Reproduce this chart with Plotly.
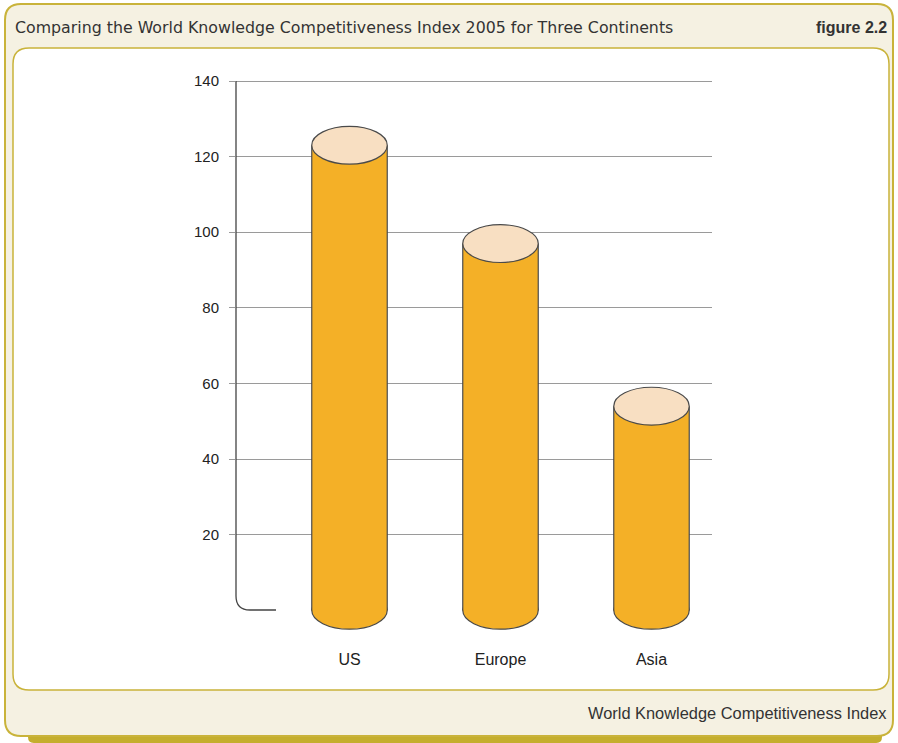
import plotly.graph_objects as go

# ---- data ----
categories = ["US", "Europe", "Asia"]
values = [123, 97, 54]
ytick_vals = [20, 40, 60, 80, 100, 120, 140]
title_text = "Comparing the World Knowledge Competitiveness Index 2005 for Three Continents"
fig_label = "figure 2.2"
source_text = "World Knowledge Competitiveness Index"

# ---- layout constants ----
W, H = 898, 743
ML, MR, MT, MB = 236, 186, 79, 110
PW, PH = W - ML - MR, H - MT - MB
Y_TOP = 140 + 2 / 3.781

BODY = "#F4B027"
TOP = "#F8DFC2"
EDGE = "#4a4a4a"
CREAM = "#F5F1E2"
GOLD = "#C9B33A"
SHADOW = "#C4AE2E"
HALF_W = 0.25
RY = 5.0

def px(x):
    return (x - ML) / PW

def py(y):
    return (H - MB - y) / PH

def rrect(x0, y0, x1, y1, r):
    pts = [
        ("M", (x0 + r, y0)),
        ("L", (x1 - r, y0)),
        ("Q", (x1, y0), (x1, y0 + r)),
        ("L", (x1, y1 - r)),
        ("Q", (x1, y1), (x1 - r, y1)),
        ("L", (x0 + r, y1)),
        ("Q", (x0, y1), (x0, y1 - r)),
        ("L", (x0, y0 + r)),
        ("Q", (x0, y0), (x0 + r, y0)),
    ]
    s = ""
    for p in pts:
        cmd = p[0]
        coords = " ".join(f"{px(a):.5f},{py(b):.5f}" for a, b in p[1:])
        s += f"{cmd} {coords} "
    return s + "Z"

x_pos = list(range(len(categories)))

fig = go.Figure()
fig.add_trace(go.Bar(
    x=x_pos, y=values, width=2 * HALF_W,
    marker=dict(color=BODY, line=dict(width=0)),
    hoverinfo="skip", showlegend=False,
))

shapes = []
# frame shadow
shapes.append(dict(type="path", xref="paper", yref="paper", layer="below",
                   path=rrect(28, 728, 882, 743, 6), fillcolor=SHADOW, line=dict(width=0)))
# outer frame
shapes.append(dict(type="path", xref="paper", yref="paper", layer="below",
                   path=rrect(5, 4, 893, 736, 16), fillcolor=CREAM, line=dict(color=GOLD, width=2)))
# inner white box
shapes.append(dict(type="path", xref="paper", yref="paper", layer="below",
                   path=rrect(13, 48, 889, 690, 16), fillcolor="white", line=dict(color=GOLD, width=1.5)))
# axis line with rounded corner
ax_path = (f"M {px(236):.5f},{py(81):.5f} L {px(236):.5f},{py(596):.5f} "
           f"Q {px(236):.5f},{py(610):.5f} {px(250):.5f},{py(610):.5f} L {px(276):.5f},{py(610):.5f}")
shapes.append(dict(type="path", xref="paper", yref="paper", layer="above",
                   path=ax_path, line=dict(color="#444444", width=1.3)))

for i, v in zip(x_pos, values):
    # bottom ellipse
    shapes.append(dict(type="circle", xref="x", yref="y", layer="below",
                       x0=i - HALF_W, x1=i + HALF_W, y0=-RY, y1=RY,
                       fillcolor=BODY, line=dict(color=EDGE, width=1.2)))
    # sides
    for sx in (i - HALF_W, i + HALF_W):
        shapes.append(dict(type="line", xref="x", yref="y", layer="above",
                           x0=sx, x1=sx, y0=0, y1=v,
                           line=dict(color=EDGE, width=1.2)))
    # top ellipse
    shapes.append(dict(type="circle", xref="x", yref="y", layer="above",
                       x0=i - HALF_W, x1=i + HALF_W, y0=v - RY, y1=v + RY,
                       fillcolor=TOP, line=dict(color=EDGE, width=1.2)))

annotations = [
    dict(text=title_text, xref="paper", yref="paper", x=px(13), y=py(27),
         xanchor="left", yanchor="middle", showarrow=False,
         font=dict(family="DejaVu Sans", size=15.8, color="#333333")),
    dict(text=f"<b>{fig_label}</b>", xref="paper", yref="paper", x=px(889), y=py(27),
         xanchor="right", yanchor="middle", showarrow=False,
         font=dict(family="Liberation Sans", size=16, color="#333333")),
    dict(text=source_text, xref="paper", yref="paper", x=px(889), y=py(713),
         xanchor="right", yanchor="middle", showarrow=False,
         font=dict(family="Liberation Sans", size=16.4, color="#333333")),
]

fig.update_layout(
    width=W, height=H,
    margin=dict(l=ML, r=MR, t=MT, b=MB, pad=0),
    paper_bgcolor="white", plot_bgcolor="rgba(0,0,0,0)",
    shapes=shapes, annotations=annotations,
    bargap=0, showlegend=False,
    font=dict(family="Liberation Sans", size=15, color="#222222"),
    xaxis=dict(range=[-0.7517, 2.4007], tickvals=x_pos, ticktext=categories,
               showgrid=False, zeroline=False, showline=False, ticks="",
               tickfont=dict(size=16),
               ticklabelstandoff=15, fixedrange=True),
    yaxis=dict(range=[-6, Y_TOP], tickvals=ytick_vals, showgrid=True,
               gridcolor="#9a9a9a", gridwidth=1.3, zeroline=False, showline=False,
               ticks="outside", ticklen=6, tickcolor="#9a9a9a", tickwidth=1.3,
               ticklabelstandoff=7, fixedrange=True),
)

fig.write_html("out.html", config={"displayModeBar": False},
               post_script="document.body.style.margin='0';document.body.style.overflow='hidden';")
